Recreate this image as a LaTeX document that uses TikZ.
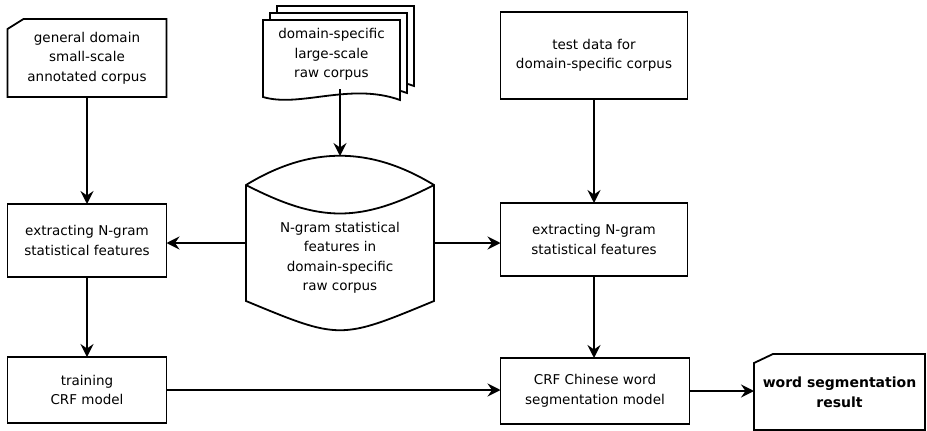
\documentclass[tikz,border=0pt]{standalone}
\usepackage{fontspec}
\setmainfont{DejaVu Sans}
\usetikzlibrary{arrows.meta,calc}
\begin{document}
\begin{tikzpicture}[x=1pt,y=-1pt,line width=1.8pt,line join=miter,
  txt/.style={inner sep=0pt,outer sep=0pt,align=center,font=\fontsize{13.5}{19.5}\selectfont},
  box/.style={txt,draw,rectangle},
  shp/.style={txt,rectangle},
  arr/.style={-{Stealth[length=13pt,width=13pt,inset=4.5pt]}}]
\useasboundingbox (0,0) rectangle (927,431);
% left column
\node[shp,minimum width=159pt,minimum height=78pt] (gen) at (87,58) {general domain\\small-scale\\annotated corpus};
\draw (gen.south west) -- ($(gen.north west)+(0,10)$) -- ($(gen.north west)+(16,0)$) -- (gen.north east) -- (gen.south east) -- cycle;
\node[box,minimum width=159pt,minimum height=73pt] (ext1) at (87,240.5) {extracting N-gram\\statistical features};
\node[box,minimum width=159pt,minimum height=66pt] (train) at (87,390) {training\\CRF model};
% stacked documents
\foreach \dx/\dy in {14/-14,7/-7,0/0}{
  \draw[fill=white,shift={(\dx,\dy)}] (263,97) -- (263,20) -- (400,20) -- (400,100)
     .. controls (350,82) and (300,108) .. (263,97) -- cycle;
}
\node[shp,minimum width=137pt,minimum height=69pt] (doc) at (331.5,54.5) {domain-specific\\large-scale\\raw corpus};
% storage shape
\node[shp,minimum width=188pt,minimum height=174pt] (cyl) at (340,243) {};
\draw (246,185) .. controls (310,146) and (370,146) .. (434,185) -- (434,301)
   .. controls (340,340) and (340,340) .. (246,301) -- cycle;
\draw (246,185) .. controls (320,223) and (360,223) .. (434,185);
\node[txt] (cyltext) at (340,258) {N-gram statistical\\features in\\domain-specific\\raw corpus};
% right column
\node[box,minimum width=187pt,minimum height=87pt] (test) at (594,55.5) {test data for\\domain-specific corpus};
\node[box,minimum width=187pt,minimum height=73pt] (ext2) at (594,239.5) {extracting N-gram\\statistical features};
\node[box,minimum width=189pt,minimum height=66pt] (crf) at (595,391) {CRF Chinese word\\segmentation model};
\node[shp,font=\fontsize{14}{20}\selectfont\bfseries,minimum width=171pt,minimum height=76pt] (res) at (839.5,392) {word segmentation\\result};
\draw (res.south west) -- ($(res.north west)+(0,9)$) -- ($(res.north west)+(19,0)$) -- (res.north east) -- (res.south east) -- cycle;
% connectors
\draw[arr] (gen.south) -- (ext1.north);
\draw[arr] (ext1.south) -- (train.north);
\draw[arr] (doc.south -| cyl.north) -- (cyl.north);
\draw[arr] (cyl.west) -- (cyl.west -| ext1.east);
\draw[arr] (cyl.east) -- (cyl.east -| ext2.west);
\draw[arr] (test.south) -- (ext2.north);
\draw[arr] (ext2.south) -- (ext2.south |- crf.north);
\draw[arr] (train.east) -- (train.east -| crf.west);
\draw[arr] (crf.east) -- (crf.east -| res.west);
\end{tikzpicture}
\end{document}
